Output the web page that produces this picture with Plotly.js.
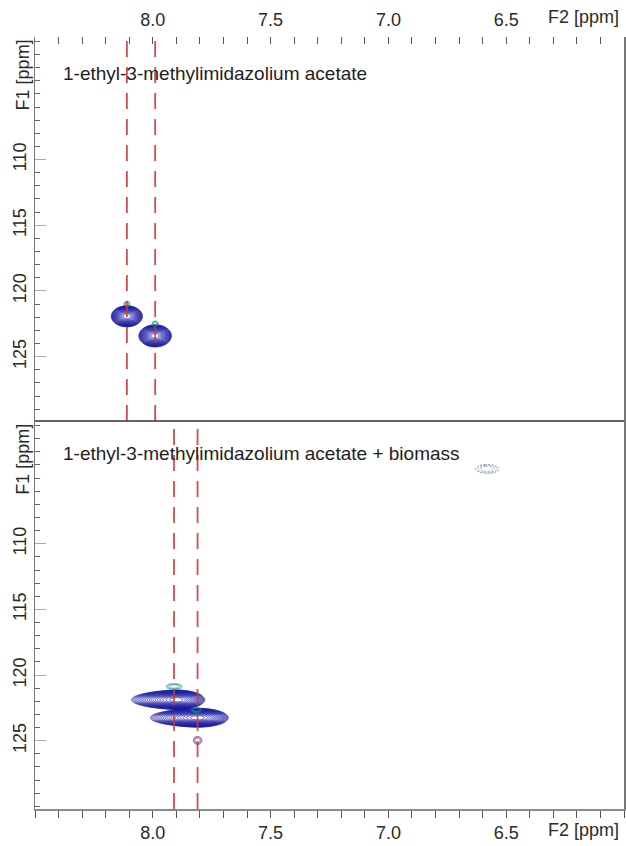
<!DOCTYPE html>
<html>
<head>
<meta charset="utf-8">
<script src="https://cdn.plot.ly/plotly-3.0.1.min.js"></script>
<style>
  html, body { margin: 0; padding: 0; background: #fff; }
  #chart { width: 626px; height: 846px; }
</style>
</head>
<body>
<div id="chart"></div>
<script>
// Panel labels
const panelTitles = [
  '1-ethyl-3-methylimidazolium acetate',
  '1-ethyl-3-methylimidazolium acetate + biomass'
];

// Axis ticks (ppm)
const f2TickVals = [8.0, 7.5, 7.0, 6.5];
const f2TickText = ['8.0', '7.5', '7.0', '6.5'];
const f1TickVals = [110, 115, 120, 125];
const f1TickText = ['110', '115', '120', '125'];
const f2Range = [8.5, 6.0];
const f1RangeTop = [129.9, 100.67];
const f1RangeBottom = [130.2, 100.65];

// Reference F2 shifts marked with dashed lines (ppm)
const topMarkers = [8.11, 7.99];
const bottomMarkers = [7.91, 7.81];

// Main cross-peaks: panel (1 = top, 2 = bottom), centre and half-extents (ppm)
const peakPanel   = [1, 1, 2, 2, 2];
const peakF2      = [8.11, 7.99, 7.90, 7.81, 6.58];
const peakF1      = [121.93, 123.42, 121.88, 123.25, 104.3];
const peakSpanHi  = [0.066, 0.069, 0.19, 0.20, 0.050];  // towards higher F2 ppm
const peakSpanLo  = [0.066, 0.069, 0.12, 0.13, 0.050];  // towards lower F2 ppm
const peakSpanF1  = [0.80, 0.84, 0.74, 0.72, 0.34];
const peakTipPow  = [2, 2, 1.6, 1.6, 2];
const peakLevels  = [20, 20, 20, 20, 3];
const peakColor   = ['#15159e', '#15159e', '#15159e', '#15159e', '#7884b8'];

// Small satellite contours (teal above each cross-peak, purple below in the blend)
const minorPanel  = [1, 1, 2, 2, 2];
const minorF2     = [8.11, 7.99, 7.91, 7.815, 7.81];
const minorF1     = [121.0, 122.5, 120.87, 122.64, 124.98];
const minorSpanF2 = [0.013, 0.013, 0.034, 0.022, 0.018];
const minorSpanF1 = [0.22, 0.22, 0.22, 0.20, 0.30];
const minorLevels = [3, 3, 3, 3, 3];
const minorColor  = ['#3aa89a', '#3aa89a', '#3aa89a', '#3aa89a', '#8c4f9e'];

const FONT = 'Liberation Sans, Arial, sans-serif';
const SPLIT = 388 / 772; // fraction of plot height given to the lower panel

// Contour surface of one peak: log-intensity falls to -1 at the stated half-extents
function peakSurface(f2, f1, hi, lo, s1, pw) {
  const nx = 160, ny = 90;
  const xs = [], ys = [], z = [];
  const xa = f2 + 1.2 * hi, xb = f2 - 1.2 * lo;
  const ya = f1 - 1.2 * s1, yb = f1 + 1.2 * s1;
  for (let i = 0; i < nx; i++) xs.push(xa + (xb - xa) * i / (nx - 1));
  for (let j = 0; j < ny; j++) ys.push(ya + (yb - ya) * j / (ny - 1));
  for (let j = 0; j < ny; j++) {
    const row = [];
    const v = (ys[j] - f1) / s1;
    for (let i = 0; i < nx; i++) {
      const dx = xs[i] - f2;
      const u = dx > 0 ? Math.pow(Math.abs(dx / hi), pw) : Math.pow(dx / lo, 2);
      row.push(-(u + v * v));
    }
    z.push(row);
  }
  return { xs, ys, z };
}

function contourTrace(panel, surf, n, color, width, dash) {
  const step = 1 / n;
  return {
    type: 'contour',
    x: surf.xs, y: surf.ys, z: surf.z,
    xaxis: panel === 1 ? 'x' : 'x2',
    yaxis: panel === 1 ? 'y' : 'y2',
    contours: { coloring: 'lines', start: -1, end: -step * 0.999, size: step, showlabels: false },
    colorscale: [[0, color], [1, color]],
    line: { width: width, dash: dash || 'solid', smoothing: 1 },
    showscale: false,
    hoverinfo: 'skip'
  };
}

const traces = [];
for (let i = 0; i < peakF2.length; i++) {
  const s = peakSurface(peakF2[i], peakF1[i], peakSpanHi[i], peakSpanLo[i], peakSpanF1[i], peakTipPow[i]);
  const faint = peakLevels[i] < 5;
  traces.push(contourTrace(peakPanel[i], s, peakLevels[i], peakColor[i], faint ? 0.9 : 0.75, faint ? '2px,1.5px' : 'solid'));
}
for (let i = 0; i < minorF2.length; i++) {
  const s = peakSurface(minorF2[i], minorF1[i], minorSpanF2[i], minorSpanF2[i], minorSpanF1[i], 2);
  traces.push(contourTrace(minorPanel[i], s, minorLevels[i], minorColor[i], 0.8));
}

const shapes = [];
function markerLines(vals, xref, yref) {
  vals.forEach(v => shapes.push({
    type: 'line', xref: xref, yref: yref,
    x0: v, x1: v, y0: 0, y1: 1,
    line: { color: 'rgba(208,55,55,0.9)', width: 1.8, dash: '16px,10px' }
  }));
}
markerLines(topMarkers, 'x', 'y domain');
markerLines(bottomMarkers, 'x2', 'y2 domain');

// separator between panels
shapes.push({ type: 'line', xref: 'paper', yref: 'paper', x0: 0, x1: 1, y0: SPLIT, y1: SPLIT,
  line: { color: '#333', width: 1.5 } });

const tickFont = { family: FONT, size: 18, color: '#2a2a2a' };
const unitFont = { family: FONT, size: 18, color: '#2a2a2a' };

function f2Axis(side, anchor) {
  const top = side === 'top';
  return {
    anchor: anchor, side: side, range: f2Range,
    tickmode: 'array', tickvals: f2TickVals, ticktext: f2TickText,
    ticks: top ? 'inside' : 'outside', ticklen: 7, tickcolor: '#555', tickwidth: 1,
    ticklabelstandoff: top ? 6 : 0,
    minor: { tickmode: 'linear', tick0: 6.0, dtick: 0.1, ticks: top ? 'inside' : 'outside',
             ticklen: 7, tickcolor: '#555', tickwidth: 1 },
    showline: !top, linecolor: '#8a8a8a', linewidth: 1.5,
    showgrid: false, zeroline: false,
    tickfont: tickFont
  };
}

function f1Axis(domain, range, anchor) {
  return {
    anchor: anchor, domain: domain, range: range,
    tickmode: 'array', tickvals: f1TickVals, ticktext: f1TickText,
    ticks: 'inside', ticklen: 11, tickcolor: '#aaa', tickwidth: 1,
    minor: { tickmode: 'linear', tick0: 0, dtick: 1, ticks: 'inside', ticklen: 5, tickcolor: '#666', tickwidth: 1 },
    tickangle: -90,
    showline: true, mirror: true, linecolor: '#777', linewidth: 1.5,
    showgrid: false, zeroline: false,
    tickfont: tickFont
  };
}

const annFont = { family: FONT, size: 19, color: '#1e1e1e' };
const annotations = [
  { text: panelTitles[0], xref: 'paper', yref: 'y domain', x: 0.044, y: 0.904,
    xanchor: 'left', yanchor: 'middle', showarrow: false, font: annFont },
  { text: panelTitles[1], xref: 'paper', yref: 'y2 domain', x: 0.044, y: 0.915,
    xanchor: 'left', yanchor: 'middle', showarrow: false, font: annFont },
  { text: 'F1 [ppm]', xref: 'paper', yref: 'y domain', x: 0, xshift: -12, y: 0.9,
    xanchor: 'center', yanchor: 'middle', textangle: -90, showarrow: false, font: unitFont },
  { text: 'F1 [ppm]', xref: 'paper', yref: 'y2 domain', x: 0, xshift: -12, y: 0.9,
    xanchor: 'center', yanchor: 'middle', textangle: -90, showarrow: false, font: unitFont },
  { text: 'F2 [ppm]', xref: 'x', yref: 'paper', x: 6.17, y: 1, yshift: 8,
    xanchor: 'center', yanchor: 'bottom', showarrow: false, font: unitFont },
  { text: 'F2 [ppm]', xref: 'x2', yref: 'paper', x: 6.17, y: 0, yshift: -9,
    xanchor: 'center', yanchor: 'top', showarrow: false, font: unitFont }
];

const layout = {
  width: 626, height: 846,
  margin: { l: 35, r: 2, t: 37, b: 37 },
  paper_bgcolor: '#fff', plot_bgcolor: '#fff',
  showlegend: false,
  xaxis: f2Axis('top', 'y'),
  yaxis: f1Axis([SPLIT, 1], f1RangeTop, 'x'),
  xaxis2: f2Axis('bottom', 'y2'),
  yaxis2: f1Axis([0, SPLIT], f1RangeBottom, 'x2'),
  shapes: shapes,
  annotations: annotations
};

Plotly.newPlot('chart', traces, layout, { staticPlot: true, displayModeBar: false });
</script>
</body>
</html>
